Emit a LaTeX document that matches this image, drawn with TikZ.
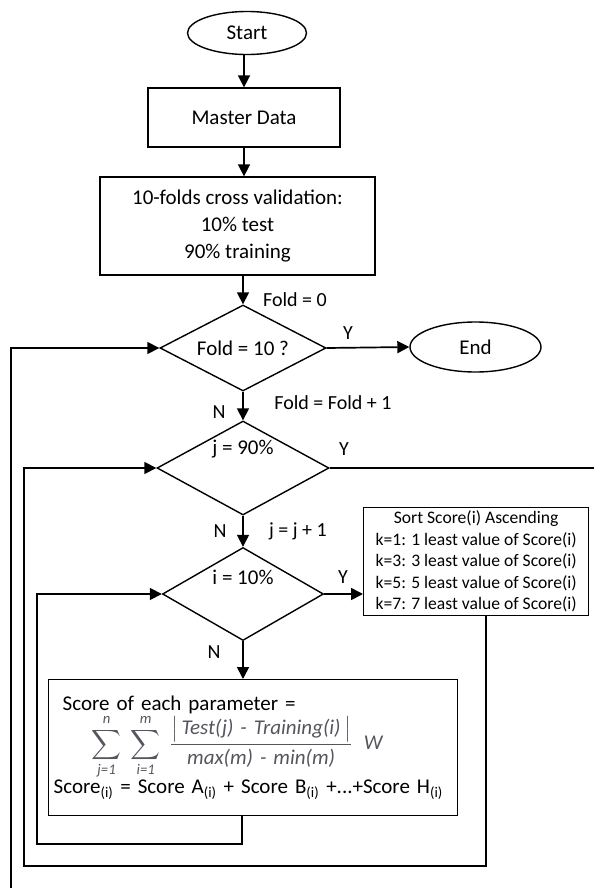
\documentclass[tikz,border=0pt]{standalone}
\usepackage{fontspec}
\setmainfont{Carlito}
\usepackage{amsmath}
\usepackage{xcolor}
\usetikzlibrary{shapes.geometric,arrows.meta}

\newcommand{\boxfont}{\fontsize{21}{27}\selectfont}
\newcommand{\tagfont}{\fontsize{20}{24}\selectfont}
\newcommand{\listfont}{\fontsize{17.6}{21.5}\selectfont}
\definecolor{formulagray}{RGB}{85,85,95}

\begin{document}
\begin{tikzpicture}[
    x=1pt, y=1pt,
    line join=miter,
    procbox/.style={draw, rectangle, line width=1.3pt, font=\boxfont, align=center},
    term/.style={draw, ellipse, line width=1.4pt, font=\boxfont, inner sep=0pt},
    decision/.style={draw, diamond, line width=1.4pt, inner sep=0pt},
    flow/.style={line width=1.7pt, -{Triangle[length=12pt,width=12pt]}},
    wire/.style={line width=1.7pt},
    tag/.style={font=\tagfont, inner sep=0pt}
]
\useasboundingbox (0,0) rectangle (594,-888);

% Terminals and process boxes
\node[term, minimum width=119pt, minimum height=43pt] (start) at (247,-33) {Start};
\node[procbox, minimum width=192pt, minimum height=59pt] (master) at (244,-117.5) {Master Data};
\node[procbox, minimum width=275pt, minimum height=98pt] (cv) at (237.5,-226) {10-folds cross validation:\\10\% test\\90\% training};
\node[term, minimum width=131pt, minimum height=50pt] (finish) at (475.5,-347) {End};

% Decisions
\node[decision, minimum width=166pt, minimum height=86pt] (fold) at (243,-348) {};
\node[font=\boxfont] (foldtxt) at (fold.center) {Fold = 10 ?};
\node[decision, minimum width=172pt, minimum height=94pt] (jdec) at (243,-468) {};
\node[font=\boxfont] (jtxt) at ([yshift=19pt]jdec.center) {j = 90\%};
\node[decision, minimum width=161pt, minimum height=93pt] (idec) at (243,-594) {};
\node[font=\boxfont] (itxt) at ([yshift=17pt]idec.center) {i = 10\%};

% Result and score boxes
\node[procbox, font=\listfont, anchor=north west, minimum width=225pt, minimum height=108pt, inner sep=3pt] (sort) at (363,-507)
    {Sort Score(i) Ascending\\k=1: 1 least value of Score(i)\\k=3: 3 least value of Score(i)\\k=5: 5 least value of Score(i)\\k=7: 7 least value of Score(i)};
\node[procbox, anchor=north west, text width=399pt, align=left, minimum height=136pt, inner sep=5pt] (score) at (48,-679)
    {\hspace*{9pt}Score of each parameter =\\
     \hspace*{38pt}{\color{formulagray}$\displaystyle\sum_{\textit{j=1}}^{\textit{n}}\;\sum_{\textit{i=1}}^{\textit{m}}\;\frac{\bigl|\,\textit{Test(j) - Training(i)}\,\bigr|}{\textit{max(m) - min(m)}}\;\;\textit{W}$}\\
     Score\textsubscript{(i)} = Score A\textsubscript{(i)} + Score B\textsubscript{(i)} +...+Score H\textsubscript{(i)}};

% Labels
\node[tag] (l0) at (295,-300) {Fold = 0};
\node[tag] (ly1) at (348,-333) {Y};
\node[tag] (ln1) at (219,-412) {N};
\node[tag] (linc1) at (333,-403) {Fold = Fold + 1};
\node[tag] (ly2) at (344,-449) {Y};
\node[tag] (ln2) at (220,-531) {N};
\node[tag] (linc2) at (298,-531) {j = j + 1};
\node[tag] (ly3) at (343,-577) {Y};
\node[tag] (ln3) at (214,-652) {N};

% Main flow
\draw[flow] (master.north |- start.south) -- (master.north);
\draw[flow] (master.south) -- (master.south |- cv.north);
\draw[flow] (cv.south -| fold.north) -- (fold.north);
\draw[flow] (fold.east) -- (finish.west);
\draw[flow] (fold.south) -- (jdec.north);
\draw[flow] (jdec.south) -- (idec.north);
\draw[flow] (idec.east) -- (idec.east -| sort.west);
\draw[flow] (idec.south) -- (idec.south |- score.north);

% Loops
\coordinate (foldloop) at (11,-888);
\coordinate (jloop) at (24,-866);
\coordinate (iloop) at (37,-844);
\coordinate (jexit) at (594,-468);
\draw[flow] (foldloop) |- (fold.west);
\draw[flow] ([xshift=9.5pt]sort.south) |- (jloop) |- (jdec.west);
\draw[flow] ([xshift=-11.5pt]score.south) |- (iloop) |- (idec.west);
\draw[wire] (jdec.east) -- (jexit);
\end{tikzpicture}
\end{document}
